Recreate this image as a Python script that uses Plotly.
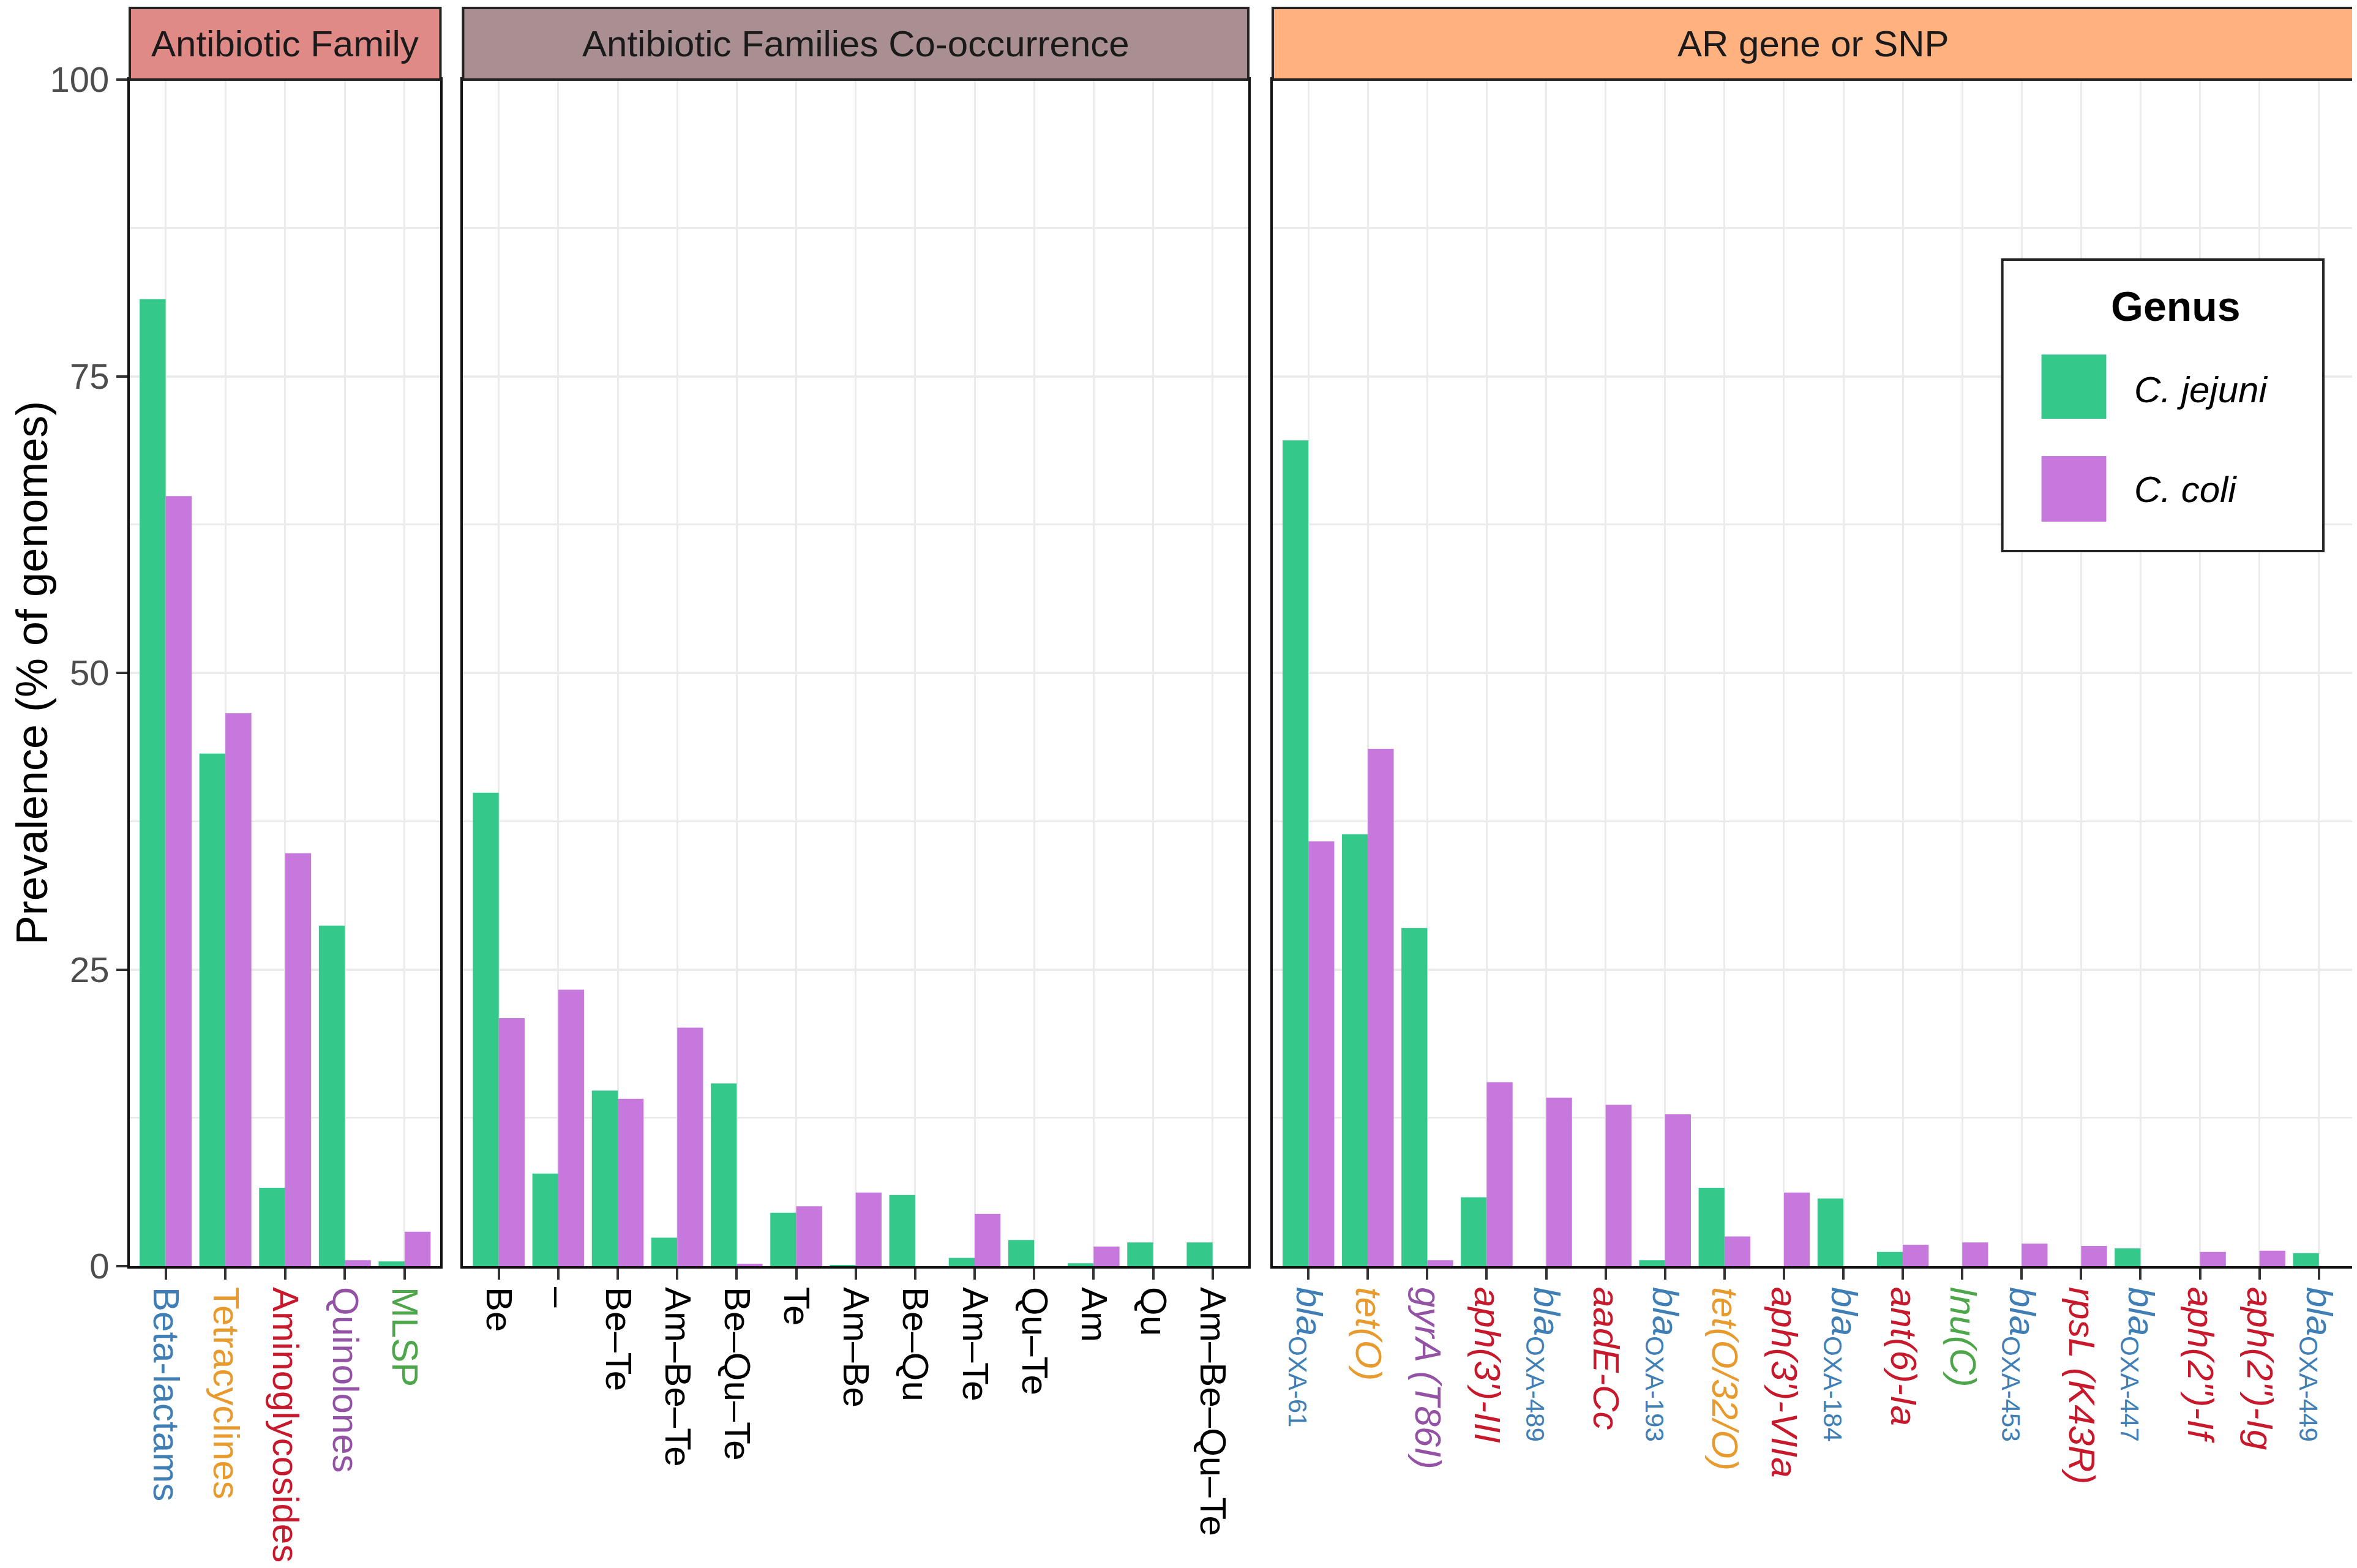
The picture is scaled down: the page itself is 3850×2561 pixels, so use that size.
import plotly.graph_objects as go

# ── Data (prevalence, % of genomes) ──────────────────────────────────────────
family_cats = ["Beta-lactams", "Tetracyclines", "Aminoglycosides", "Quinolones", "MLSP"]
family_jejuni = [81.5, 43.2, 6.6, 28.7, 0.4]
family_coli = [64.9, 46.6, 34.8, 0.5, 2.9]

combo_cats = ["Be", "–", "Be–Te", "Am–Be–Te", "Be–Qu–Te", "Te", "Am–Be",
              "Be–Qu", "Am–Te", "Qu–Te", "Am", "Qu", "Am–Be–Qu–Te"]
combo_jejuni = [39.9, 7.8, 14.8, 2.4, 15.4, 4.5, 0.1, 6.0, 0.7, 2.2, 0.25, 2.0, 2.0]
combo_coli = [20.9, 23.3, 14.1, 20.1, 0.2, 5.05, 6.2, 0.0, 4.4, 0.0, 1.65, 0.0, 0.0]

gene_cats = ["blaOXA-61", "tet(O)", "gyrA (T86I)", "aph(3')-III", "blaOXA-489",
             "aadE-Cc", "blaOXA-193", "tet(O/32/O)", "aph(3')-VIIa", "blaOXA-184",
             "ant(6)-Ia", "lnu(C)", "blaOXA-453", "rpsL (K43R)", "blaOXA-447",
             "aph(2'')-If", "aph(2'')-Ig", "blaOXA-449"]
gene_family = ["Beta-lactams", "Tetracyclines", "Quinolones", "Aminoglycosides",
               "Beta-lactams", "Aminoglycosides", "Beta-lactams", "Tetracyclines",
               "Aminoglycosides", "Beta-lactams", "Aminoglycosides", "MLSP",
               "Beta-lactams", "Aminoglycosides", "Beta-lactams", "Aminoglycosides",
               "Aminoglycosides", "Beta-lactams"]
gene_jejuni = [69.6, 36.4, 28.5, 5.8, 0.0, 0.0, 0.5, 6.6, 0.0, 5.7,
               1.2, 0.0, 0.0, 0.0, 1.5, 0.0, 0.0, 1.1]
gene_coli = [35.8, 43.6, 0.5, 15.5, 14.2, 13.6, 12.8, 2.5, 6.2, 0.0,
             1.8, 2.0, 1.9, 1.7, 0.0, 1.2, 1.3, 0.0]

panel_titles = ["Antibiotic Family", "Antibiotic Families Co-occurrence", "AR gene or SNP"]
y_ticks = [0, 25, 50, 75, 100]

# ── Style ────────────────────────────────────────────────────────────────────
FONT = "Liberation Sans, Arial, sans-serif"
JEJUNI = "#34C88A"
COLI = "#C678DD"
STRIP_COLORS = ["#E08A88", "#A98F91", "#FFB27F"]
FAMILY_COLORS = {
    "Beta-lactams": "#3F7FB5",
    "Tetracyclines": "#E89A2C",
    "Aminoglycosides": "#C8182C",
    "Quinolones": "#9452A5",
    "MLSP": "#4DA64A",
}
GRID = "#EBEBEB"

W, H = 3850, 2561
ML, MR, MT, MB = 204, 8, 122, 501
PW = W - ML - MR
PH = H - MT - MB


def px_x(p):
    return (p - ML) / PW


def px_y(p):
    return (H - MB - p) / PH


def gene_label(name, fam):
    col = FAMILY_COLORS[fam]
    if name.startswith("bla"):
        body = f"<i>bla</i><sub>{name[3:]}</sub>"
    else:
        body = f"<i>{name}</i>"
    return f"<span style='color:{col}'>{body}</span>"


panels = [
    (family_cats, family_jejuni, family_coli,
     [f"<span style='color:{FAMILY_COLORS[c]}'>{c}</span>" for c in family_cats]),
    (combo_cats, combo_jejuni, combo_coli,
     [f"<span style='color:#000000'>{c}</span>" for c in combo_cats]),
    (gene_cats, gene_jejuni, gene_coli,
     [gene_label(n, f) for n, f in zip(gene_cats, gene_family)]),
]

# panel pixel extents (left, right)
panel_px = [(204, 712), (749, 2033), (2073, 3842)]

fig = go.Figure()
layout_axes = {}
for i, (cats, jej, col, ticktext) in enumerate(panels):
    sfx = "" if i == 0 else str(i + 1)
    xa, ya = "x" + sfx, "y" + sfx
    fig.add_trace(go.Bar(x=cats, y=jej, name="C. jejuni", marker=dict(color=JEJUNI, line=dict(width=0)),
                         xaxis=xa, yaxis=ya, showlegend=False))
    fig.add_trace(go.Bar(x=cats, y=col, name="C. coli", marker=dict(color=COLI, line=dict(width=0)),
                         xaxis=xa, yaxis=ya, showlegend=False))
    n = len(cats)
    layout_axes["xaxis" + sfx] = dict(
        domain=[px_x(panel_px[i][0]), px_x(panel_px[i][1])],
        anchor=ya, type="category",
        range=[-0.6, n - 1 + 0.6],
        tickmode="array", tickvals=cats, ticktext=ticktext,
        tickangle=90, tickfont=dict(size=60, family=FONT, color="#4D4D4D"),
        ticks="outside", ticklen=18, tickwidth=4, tickcolor="#333333",
        showgrid=True, gridcolor=GRID, gridwidth=3,
        showline=True, linecolor="#111111", linewidth=4, mirror=True,
        zeroline=False, fixedrange=True,
    )
    ydict = dict(
        domain=[0, 1], anchor=xa, range=[0, 100],
        tickmode="array", tickvals=y_ticks,
        showgrid=True, gridcolor=GRID, gridwidth=4,
        minor=dict(tickmode="array", tickvals=[12.5, 37.5, 62.5, 87.5],
                   showgrid=True, gridcolor=GRID, gridwidth=3, ticks=""),
        showline=True, linecolor="#111111", linewidth=4, mirror=True,
        zeroline=False, fixedrange=True,
    )
    if i == 0:
        ydict.update(ticks="outside", ticklen=18, tickwidth=4, tickcolor="#333333",
                     tickfont=dict(size=58, family=FONT, color="#4D4D4D"))
    else:
        ydict.update(matches="y", showticklabels=False, ticks="")
    layout_axes["yaxis" + sfx] = ydict

    # facet strip
    strip_top = (MT - 5) / PH
    fig.add_shape(type="rect", xref=xa + " domain", yref=ya + " domain",
                  x0=0, x1=1, y0=1, y1=1 + strip_top,
                  fillcolor=STRIP_COLORS[i], line=dict(color="#222222", width=4))
    fig.add_annotation(xref=xa + " domain", yref=ya + " domain",
                       x=0.5, y=1 + strip_top / 2, xanchor="center", yanchor="middle",
                       text=panel_titles[i], showarrow=False,
                       font=dict(size=60, family=FONT, color="#1A1A1A"))

# ── Legend (drawn as a ggplot-style key box) ─────────────────────────────────
fig.add_shape(type="rect", xref="paper", yref="paper",
              x0=px_x(3266), x1=px_x(3791), y0=px_y(892), y1=px_y(416),
              fillcolor="white", line=dict(color="#222222", width=4))
fig.add_annotation(xref="paper", yref="paper", x=px_x(3550), y=px_y(492),
                   xanchor="center", yanchor="middle",
                   text="<b>Genus</b>", showarrow=False,
                   font=dict(size=68, family=FONT, color="black"))
for (name, color, y0, y1, ty) in [("C. jejuni", JEJUNI, 571, 676, 628),
                                  ("C. coli", COLI, 737, 844, 791)]:
    fig.add_shape(type="rect", xref="paper", yref="paper",
                  x0=px_x(3330), x1=px_x(3436), y0=px_y(y1), y1=px_y(y0),
                  fillcolor=color, line=dict(width=0))
    fig.add_annotation(xref="paper", yref="paper", x=px_x(3480), y=px_y(ty),
                       xanchor="left", yanchor="middle",
                       text=f"<i>{name}</i>", showarrow=False,
                       font=dict(size=60, family=FONT, color="black"))

# y-axis title
fig.add_annotation(xref="paper", yref="paper", x=px_x(44), y=0.5,
                   xanchor="center", yanchor="middle",
                   text="Prevalence (% of genomes)", textangle=-90, showarrow=False,
                   font=dict(size=72, family=FONT, color="black"))

fig.update_layout(
    width=W, height=H,
    margin=dict(l=ML, r=MR, t=MT, b=MB),
    paper_bgcolor="white", plot_bgcolor="white",
    barmode="group", bargap=0.13, bargroupgap=0,
    font=dict(family=FONT),
    showlegend=False,
    **layout_axes,
)

fig.write_html("out.html")
